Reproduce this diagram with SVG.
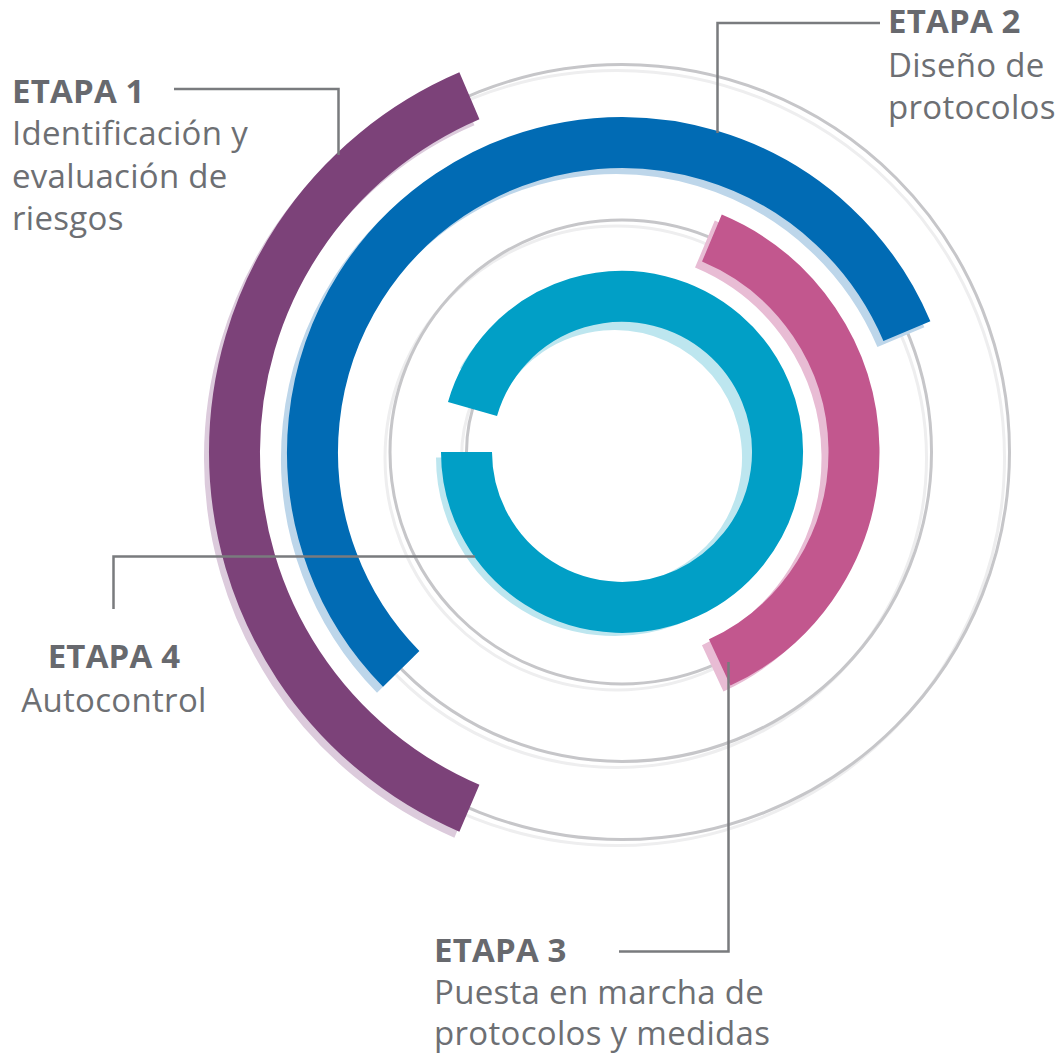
<svg xmlns="http://www.w3.org/2000/svg" width="1061" height="1053" viewBox="0 0 1061 1053">
<style>
.gd{fill:none;stroke:#c6c6c9;stroke-width:3}
.gl{fill:none;stroke:#eeeeef;stroke-width:3}
.arc{fill:none;stroke-width:51;stroke-linecap:butt}
.conn{fill:none;stroke:#797b7e;stroke-width:2.5}
.h{font-family:"Open Sans","Noto Sans",sans-serif;font-weight:700;font-size:33px;letter-spacing:0.2px;fill:#67696e}
.t{font-family:"Open Sans","Noto Sans",sans-serif;font-weight:400;font-size:33px;letter-spacing:0.3px;fill:#6d6f73}
</style>
<rect width="1061" height="1053" fill="#ffffff"/>
<g id="guides">
<circle class="gl" cx="617" cy="458" r="387.5"/>
<circle class="gd" cx="622" cy="452" r="387.5"/>
<circle class="gl" cx="617" cy="458" r="309.5"/>
<circle class="gd" cx="622" cy="452" r="309.5"/>
<circle class="gl" cx="617" cy="458" r="232"/>
<circle class="gd" cx="622" cy="452" r="232"/>
<circle class="gl" cx="617" cy="458" r="155.5"/>
<circle class="gd" cx="622" cy="452" r="155.5"/>
</g>
<g id="etapa1-arc">
<path class="arc" stroke="#dccbdc" transform="translate(-5 6)" d="M 469.4 95.8 A 387.5 387.5 0 0 0 469.4 808.2"/>
<path class="arc" stroke="#7c4279" d="M 469.4 95.8 A 387.5 387.5 0 0 0 469.4 808.2"/>
</g>
<g id="etapa2-arc">
<path class="arc" stroke="#bdd6ea" transform="translate(-6 6)" d="M 401.2 668.9 A 309.5 309.5 0 1 1 906.9 331.1"/>
<path class="arc" stroke="#016bb4" d="M 401.2 668.9 A 309.5 309.5 0 1 1 906.9 331.1"/>
</g>
<g id="etapa3-arc">
<path class="arc" stroke="#e8bcd4" transform="translate(-7 6)" d="M 711.9 238.1 A 232 232 0 0 1 719.7 662.4"/>
<path class="arc" stroke="#c2578e" d="M 711.9 238.1 A 232 232 0 0 1 719.7 662.4"/>
</g>
<g id="etapa4-arc">
<path class="arc" stroke="#bde6ef" d="M 482 381 A 153 153 0 1 1 461.5 457.5"/>
<path class="arc" stroke="#019fc6" d="M 472.5 409.1 A 155.5 155.5 0 1 1 466.5 452"/>
</g>
<g id="connectors">
<path class="conn" d="M 174 89 H 338.5 V 155"/>
<path class="conn" d="M 880 23 H 717.5 V 133"/>
<path class="conn" d="M 619 951.5 H 728.5 V 662"/>
<path class="conn" d="M 475 556.5 H 113.5 V 609"/>
</g>
<g id="etapa1">
<text class="h" x="12" y="103">ETAPA 1</text>
<text class="t" x="12" y="145">Identificación y</text>
<text class="t" x="12" y="188">evaluación de</text>
<text class="t" x="12" y="230">riesgos</text>
</g>
<g id="etapa2">
<text class="h" x="888" y="33">ETAPA 2</text>
<text class="t" x="888" y="77">Diseño de</text>
<text class="t" x="888" y="119">protocolos</text>
</g>
<g id="etapa3">
<text class="h" x="434" y="962">ETAPA 3</text>
<text class="t" x="434" y="1004">Puesta en marcha de</text>
<text class="t" x="434" y="1045">protocolos y medidas</text>
</g>
<g id="etapa4">
<text class="h" x="114" y="668" text-anchor="middle">ETAPA 4</text>
<text class="t" x="114" y="712" text-anchor="middle">Autocontrol</text>
</g>
</svg>
